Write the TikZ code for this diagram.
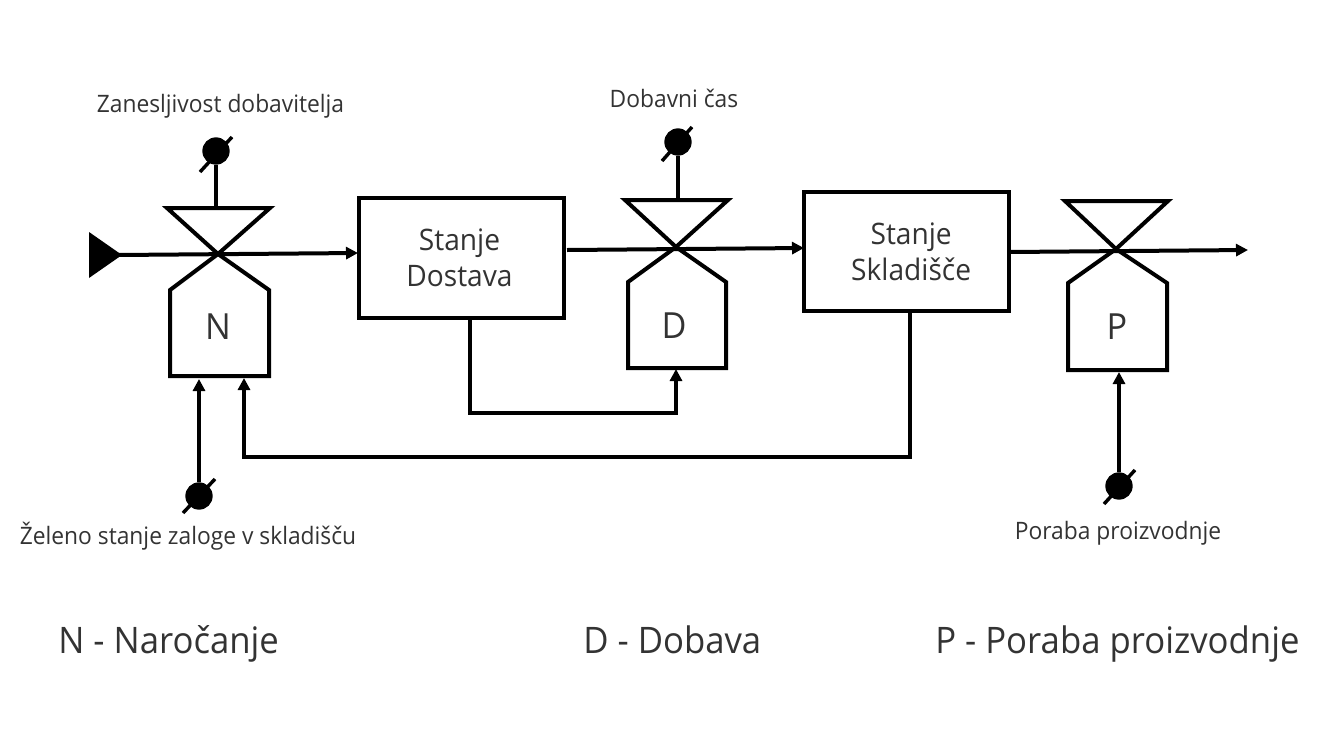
\documentclass[tikz,border=0pt]{standalone}
\usepackage{fontspec}
\setmainfont[FakeStretch=0.95]{Open Sans}
\usetikzlibrary{arrows.meta}
\definecolor{txt}{HTML}{333333}
\tikzset{
  ln/.style={line width=3pt,line join=miter,draw=black},
  flow/.style={line width=3pt,draw=black,-{Triangle[length=9pt,width=9pt]}},
  boxn/.style={ln,rectangle,inner sep=0pt,align=center,text=txt,font=\fontsize{22.2}{26}\selectfont},
  lab/.style={text=txt,inner sep=0pt,anchor=base,font=\fontsize{18}{22}\selectfont},
  big/.style={text=txt,inner sep=0pt,anchor=base west,font=\fontsize{27.4}{32}\selectfont},
  let/.style={text=txt,inner sep=0pt,anchor=base,font=\fontsize{27}{32}\selectfont},
  dot/.style={circle,fill=black,minimum size=20.5pt,inner sep=0pt},
  slash/.style={line width=2.6pt,draw=black},
}
\begin{document}
\begin{tikzpicture}[x=0.75pt,y=-0.75pt]
\useasboundingbox (0,0) rectangle (1340,747);
% boxes
\node[boxn,draw,minimum width=153.75pt,minimum height=90pt] (dostava) at (461.5,258) {Stanje\hspace*{3pt}\\[1pt]Dostava\hspace*{3pt}};
\node[boxn,draw,minimum width=153.75pt,minimum height=89.25pt] (sklad) at (906.5,251.5) {\hspace*{7pt}Stanje\\[1pt]\hspace*{7pt}Skladišče};
% valve centres
\coordinate (nc) at (218,254);
\coordinate (dc) at (676,247);
\coordinate (pc) at (1116,249);
% valves
\draw[ln] (nc) -- (167,208) -- (270,208) -- cycle;
\draw[ln] (nc) -- (170,290) -- (170,376) -- (269,376) -- (269,290) -- cycle;
\draw[ln] (dc) -- (625,200) -- (728,200) -- cycle;
\draw[ln] (dc) -- (628,282) -- (628,368) -- (726,368) -- (726,282) -- cycle;
\draw[ln] (pc) -- (1065,201) -- (1168,201) -- cycle;
\draw[ln] (pc) -- (1068,283) -- (1068,370) -- (1167,370) -- (1167,283) -- cycle;
\node[let] (nl) at (218,339) {N};
\node[let] (dl) at (674,338) {D};
\node[let] (pl) at (1117,339) {P};
% source
\fill[black] (89,232) -- (122,255) -- (89,278) -- cycle;
\coordinate (src) at (118,255);
\coordinate (din) at (358,253);
\coordinate (dout) at (567,250);
\coordinate (sin) at (804,248);
\coordinate (sout) at (1009,252);
\coordinate (sink) at (1248,250);
\draw[flow] (src) -- (din);
\draw[flow] (dout) -- (sin);
\draw[flow] (sout) -- (sink);
% feedback
\coordinate (a1) at (470,318);
\coordinate (a2) at (470,413);
\coordinate (a3) at (676,413);
\coordinate (a4) at (676,369);
\draw[flow] (a1) -- (a2) -- (a3) -- (a4);
\coordinate (b1) at (910,312);
\coordinate (b2) at (910,457);
\coordinate (b3) at (244,457);
\coordinate (b4) at (244,378);
\draw[flow] (b1) -- (b2) -- (b3) -- (b4);
% inputs
\node[dot] (c1) at (216,151) {};
\draw[slash] (200,172) -- (232,137);
\draw[ln] (c1) -- (216,208);
\node[dot] (c2) at (678,142) {};
\draw[slash] (662,161) -- (692,127);
\draw[ln] (c2) -- (678,200);
\node[dot] (c3) at (199,496) {};
\draw[slash] (183,513) -- (215,479);
\coordinate (n3) at (199,379);
\draw[flow] (c3) -- (n3);
\node[dot] (c4) at (1119,486) {};
\draw[slash] (1104,504) -- (1135,470);
\coordinate (n4) at (1119,372);
\draw[flow] (c4) -- (n4);
% labels
\node[lab] (t1) at (220.5,112) {Zanesljivost dobavitelja};
\node[lab] (t2) at (674,107) {Dobavni čas};
\node[lab] (t3) at (188,544) {Želeno stanje zaloge v skladišču};
\node[lab] (t4) at (1118,539) {Poraba proizvodnje};
\node[big] (l1) at (58,653) {N - Naročanje};
\node[big] (l2) at (583,653) {D - Dobava};
\node[big] (l3) at (935,653) {P - Poraba proizvodnje};
\end{tikzpicture}
\end{document}
